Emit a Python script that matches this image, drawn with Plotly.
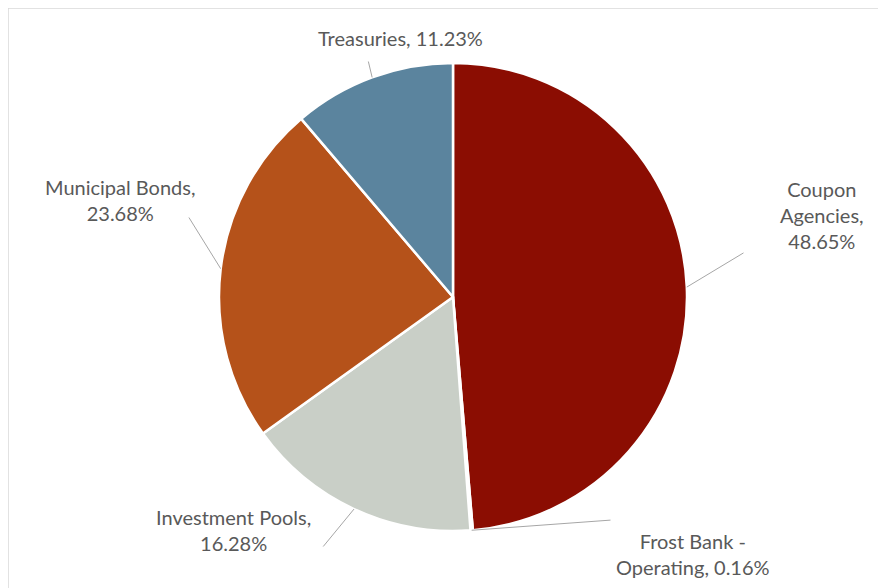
import math
import plotly.graph_objects as go

labels = ["Coupon Agencies", "Frost Bank - Operating", "Investment Pools", "Municipal Bonds", "Treasuries"]
values = [48.65, 0.16, 16.28, 23.68, 11.23]
colors = ["#8B0D02", "#A5A5A5", "#C9CFC7", "#B5521A", "#5B849E"]
label_texts = ["Coupon<br>Agencies,<br>48.65%", "Frost Bank -<br>Operating, 0.16%",
               "Investment Pools,<br>16.28%", "Municipal Bonds,<br>23.68%", "Treasuries, 11.23%"]

W, H = 886, 588
OFF = 8  # page body margin offset
cx, cy, R = 453 - OFF, 297 - OFF, 234

# label text centers (pixels) and leader line start points (pixels), in screen coords
text_pos = [(822, 215), (693, 554), (233, 530), (120, 200), (400, 38)]
line_start = [(745, 252), (612, 520), (322, 548), (188, 216), (368, 60)]

fig = go.Figure(go.Pie(
    labels=labels, values=values, sort=False, direction="clockwise", rotation=0,
    marker=dict(colors=colors, line=dict(color="white", width=2.5)),
    textinfo="none", hoverinfo="label+percent", showlegend=False,
    domain=dict(x=[(cx - R) / W, (cx + R) / W], y=[1 - (cy + R) / H, 1 - (cy - R) / H]),
))

total = sum(values)
cum = 0
annotations = []
for i, v in enumerate(values):
    mid = (cum + v / 2) / total
    cum += v
    th = 2 * math.pi * mid
    ex, ey = cx + R * math.sin(th), cy - R * math.cos(th)
    sx, sy = line_start[i][0] - OFF, line_start[i][1] - OFF
    annotations.append(dict(
        x=ex / W, y=1 - ey / H, xref="paper", yref="paper",
        ax=sx - ex, ay=sy - ey, axref="pixel", ayref="pixel",
        text="", showarrow=True, arrowhead=0, arrowwidth=1, arrowcolor="#A6A6A6",
        standoff=0, startstandoff=0,
    ))
    tx, ty = text_pos[i][0] - OFF, text_pos[i][1] - OFF
    annotations.append(dict(
        x=tx / W, y=1 - ty / H, xref="paper", yref="paper", showarrow=False,
        text=label_texts[i], align="center", xanchor="center", yanchor="middle",
        font=dict(family="Lato, Open Sans, sans-serif", size=20, color="#595959"),
    ))

fig.update_layout(
    width=W, height=H, margin=dict(l=0, r=0, t=0, b=0),
    paper_bgcolor="white", plot_bgcolor="white",
    annotations=annotations,
    shapes=[dict(type="rect", xref="paper", yref="paper", x0=0, y0=-0.02, x1=1.02, y1=1,
                 line=dict(color="#D9D9D9", width=1.5), fillcolor="rgba(0,0,0,0)", layer="below")],
)

fig.write_html("out.html")
